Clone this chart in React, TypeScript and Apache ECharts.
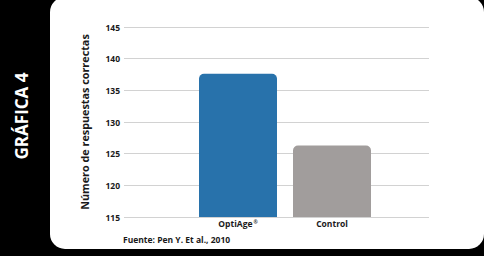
import React, { useEffect, useRef } from "react";
import * as echarts from "echarts";

const categories = ["OptiAge®", "Control"];
const values = [137.6, 126.3];
const barColors = ["#2872ab", "#a19d9c"];
const yTicks = { min: 115, max: 145, interval: 5 };
const sideTitle = "GRÁFICA 4";
const yTitle = "Número de respuestas correctas";
const source = "Fuente: Pen Y. Et al., 2010";

const FONT = "'Open Sans', 'DejaVu Sans', sans-serif";

export default function App() {
  const ref = useRef<HTMLDivElement>(null);
  useEffect(() => {
    const chart = echarts.init(ref.current!, undefined, { renderer: "svg" });
    chart.setOption({
      animation: false,
      backgroundColor: "#000000",
      graphic: [
        {
          type: "rect",
          z: -10,
          shape: { x: 50, y: -3, width: 434, height: 252, r: 15 },
          style: { fill: "#ffffff" },
          silent: true,
        },
        {
          type: "text",
          x: 21,
          y: 116,
          rotation: Math.PI / 2,
          style: {
            text: sideTitle,
            fill: "#ffffff",
            font: `bold 17px ${FONT}`,
            align: "center",
            verticalAlign: "middle",
          },
        },
        {
          type: "text",
          x: 84,
          y: 122,
          rotation: Math.PI / 2,
          style: {
            text: yTitle,
            fill: "#1a1a1a",
            font: `bold 10.8px ${FONT}`,
            align: "center",
            verticalAlign: "middle",
          },
        },
        {
          type: "text",
          x: 123,
          y: 239,
          style: {
            text: source,
            fill: "#1a1a1a",
            font: `bold 8.5px ${FONT}`,
            align: "left",
            verticalAlign: "middle",
          },
        },
      ],
      grid: [
        { left: 124, right: 55, top: 27, bottom: 39 },
        { left: 191, right: 105, top: 27, bottom: 39 },
      ],
      xAxis: [
        { type: "value", gridIndex: 0, show: false, min: 0, max: 1 },
        {
          type: "category",
          gridIndex: 1,
          data: categories,
          axisLine: { show: false },
          axisTick: { show: false },
          axisLabel: {
            color: "#1a1a1a",
            fontFamily: FONT,
            fontWeight: "bold",
            fontSize: 8.5,
            margin: 2,
            formatter: (v: string) => v.replace("®", "{s|®}"),
            rich: {
              s: {
                fontSize: 5,
                fontFamily: FONT,
                fontWeight: "bold",
                color: "#1a1a1a",
                verticalAlign: "top",
                padding: [0, 0, 4, 1],
              },
            },
          },
        },
      ],
      yAxis: [
        {
          type: "value",
          gridIndex: 0,
          min: yTicks.min,
          max: yTicks.max,
          interval: yTicks.interval,
          axisLine: { show: false },
          axisTick: { show: false },
          axisLabel: {
            color: "#1a1a1a",
            fontFamily: FONT,
            fontWeight: "bold",
            fontSize: 8.5,
            margin: 4,
          },
          splitLine: { lineStyle: { color: "#d2d2d2", width: 1 } },
        },
        {
          type: "value",
          gridIndex: 1,
          min: yTicks.min,
          max: yTicks.max,
          interval: yTicks.interval,
          show: false,
        },
      ],
      series: [
        {
          type: "bar",
          xAxisIndex: 1,
          yAxisIndex: 1,
          barWidth: 78,
          data: values.map((v, i) => ({
            value: v,
            itemStyle: { color: barColors[i], borderRadius: [5, 5, 0, 0] },
          })),
        },
      ],
    });
    return () => chart.dispose();
  }, []);
  return (
    <div
      ref={ref}
      style={{ position: "fixed", left: 0, top: 0, width: 484, height: 256 }}
    />
  );
}
